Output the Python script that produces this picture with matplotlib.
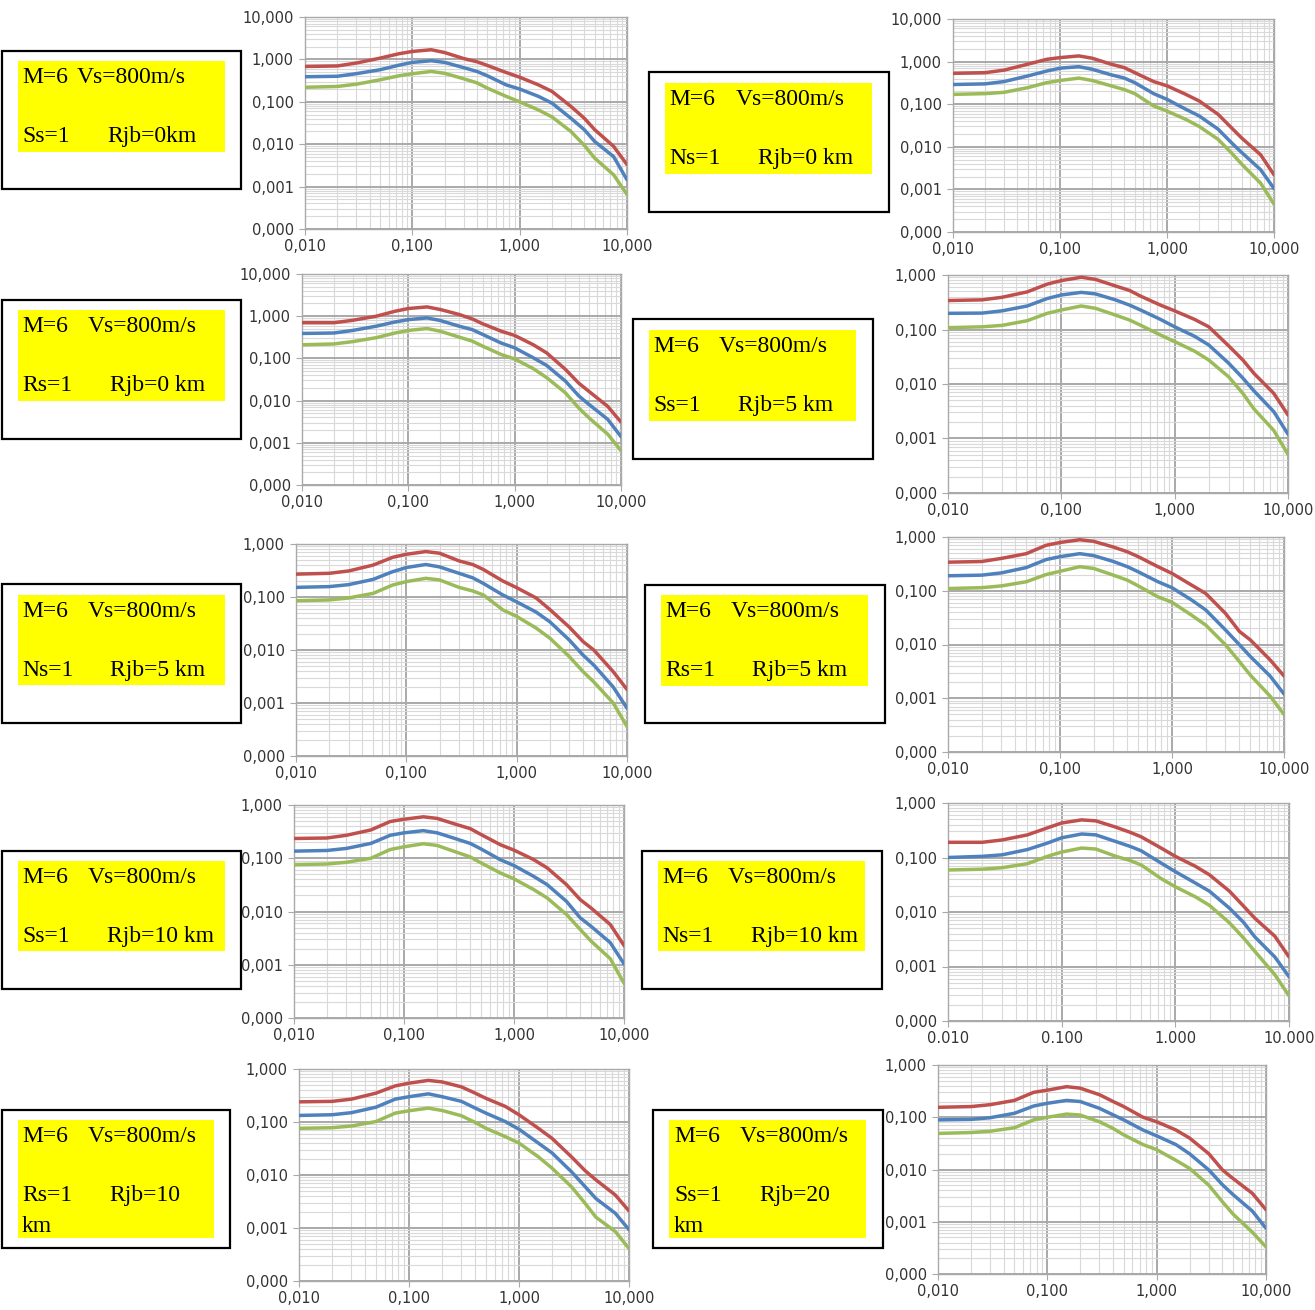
import matplotlib
matplotlib.use("Agg")
import matplotlib.pyplot as plt
from matplotlib.patches import Rectangle
from matplotlib.ticker import FixedLocator, LogLocator, FuncFormatter

# Periodos (s) de los espectros
periods = [0.01, 0.02, 0.03, 0.05, 0.075, 0.1, 0.15, 0.2, 0.3, 0.4,
           0.5, 0.75, 1, 1.5, 2, 3, 4, 5, 7.5, 10]

# Ss=1, Rjb=0 km
ss0_red = [0.68, 0.70, 0.82, 1.07, 1.36, 1.54, 1.69, 1.45, 1.05, 0.88, 0.72, 0.49, 0.38, 0.25, 0.176, 0.078, 0.041, 0.022, 0.0089, 0.0033]
ss0_blue = [0.39, 0.40, 0.46, 0.57, 0.73, 0.85, 0.93, 0.85, 0.64, 0.52, 0.41, 0.25, 0.20, 0.134, 0.093, 0.041, 0.022, 0.0116, 0.0051, 0.00145]
ss0_green = [0.22, 0.23, 0.26, 0.33, 0.41, 0.46, 0.52, 0.47, 0.35, 0.28, 0.21, 0.134, 0.10, 0.064, 0.044, 0.020, 0.0094, 0.0047, 0.0019, 0.00065]

# Ns=1, Rjb=0 km
ns0_red = [0.53, 0.55, 0.63, 0.87, 1.13, 1.24, 1.36, 1.2, 0.87, 0.72, 0.55, 0.34, 0.27, 0.17, 0.119, 0.058, 0.028, 0.016, 0.0065, 0.0022]
ns0_blue = [0.29, 0.30, 0.34, 0.46, 0.60, 0.70, 0.76, 0.66, 0.49, 0.41, 0.32, 0.177, 0.13, 0.076, 0.053, 0.026, 0.0125, 0.0073, 0.0029, 0.00105]
ns0_green = [0.17, 0.177, 0.19, 0.245, 0.32, 0.36, 0.41, 0.36, 0.27, 0.22, 0.177, 0.091, 0.069, 0.044, 0.030, 0.015, 0.0072, 0.0039, 0.0014, 0.00045]

# Rs=1, Rjb=0 km
rs0_red = [0.70, 0.70, 0.80, 1.0, 1.31, 1.52, 1.66, 1.44, 1.1, 0.86, 0.66, 0.44, 0.35, 0.21, 0.135, 0.055, 0.026, 0.0165, 0.0073, 0.0031]
rs0_blue = [0.39, 0.40, 0.46, 0.58, 0.73, 0.83, 0.91, 0.79, 0.58, 0.48, 0.37, 0.23, 0.178, 0.103, 0.068, 0.029, 0.013, 0.0081, 0.0036, 0.0014]
rs0_green = [0.21, 0.22, 0.25, 0.31, 0.40, 0.46, 0.51, 0.44, 0.32, 0.256, 0.195, 0.123, 0.097, 0.057, 0.035, 0.0153, 0.0067, 0.0039, 0.0016, 0.00065]

# Ss=1, Rjb=5 km
ss5_red = [0.34, 0.35, 0.39, 0.49, 0.68, 0.79, 0.91, 0.83, 0.63, 0.52, 0.41, 0.28, 0.22, 0.153, 0.112, 0.050, 0.0275, 0.0157, 0.0067, 0.0027]
ss5_blue = [0.198, 0.20, 0.22, 0.27, 0.37, 0.43, 0.48, 0.45, 0.35, 0.28, 0.228, 0.153, 0.112, 0.075, 0.052, 0.024, 0.0128, 0.0075, 0.0031, 0.0012]
ss5_green = [0.108, 0.112, 0.119, 0.145, 0.198, 0.228, 0.27, 0.245, 0.184, 0.149, 0.12, 0.079, 0.060, 0.040, 0.0275, 0.0135, 0.0067, 0.0035, 0.0014, 0.00051]

# Ns=1, Rjb=5 km
ns5_red = [0.27, 0.28, 0.31, 0.40, 0.56, 0.64, 0.72, 0.67, 0.48, 0.41, 0.33, 0.20, 0.15, 0.096, 0.058, 0.027, 0.0144, 0.010, 0.0039, 0.0018]
ns5_blue = [0.152, 0.157, 0.171, 0.215, 0.30, 0.36, 0.41, 0.37, 0.28, 0.23, 0.18, 0.109, 0.081, 0.052, 0.034, 0.0154, 0.008, 0.0052, 0.002, 0.0008]
ns5_green = [0.085, 0.088, 0.096, 0.117, 0.168, 0.195, 0.225, 0.21, 0.152, 0.13, 0.109, 0.057, 0.043, 0.026, 0.0167, 0.0075, 0.0039, 0.0025, 0.001, 0.00036]

# Rs=1, Rjb=5 km
rs5_red = [0.34, 0.35, 0.40, 0.49, 0.70, 0.79, 0.89, 0.83, 0.65, 0.53, 0.43, 0.28, 0.21, 0.127, 0.089, 0.038, 0.0175, 0.0122, 0.0052, 0.0026]
rs5_blue = [0.19, 0.195, 0.215, 0.27, 0.38, 0.43, 0.49, 0.45, 0.35, 0.28, 0.225, 0.147, 0.114, 0.067, 0.044, 0.0187, 0.0099, 0.006, 0.0026, 0.0012]
rs5_green = [0.11, 0.114, 0.123, 0.147, 0.20, 0.23, 0.28, 0.26, 0.195, 0.157, 0.123, 0.077, 0.061, 0.035, 0.023, 0.0099, 0.0048, 0.0027, 0.0011, 0.0005]

# Ss=1, Rjb=10 km
ss10_red = [0.235, 0.24, 0.27, 0.34, 0.49, 0.54, 0.60, 0.56, 0.43, 0.36, 0.28, 0.18, 0.142, 0.095, 0.066, 0.032, 0.0167, 0.0117, 0.0057, 0.0023]
ss10_blue = [0.136, 0.14, 0.153, 0.19, 0.27, 0.30, 0.33, 0.30, 0.23, 0.19, 0.15, 0.094, 0.073, 0.046, 0.032, 0.0155, 0.0076, 0.0053, 0.0026, 0.00104]
ss10_green = [0.076, 0.078, 0.084, 0.10, 0.146, 0.164, 0.187, 0.174, 0.13, 0.106, 0.082, 0.053, 0.041, 0.026, 0.018, 0.0088, 0.0046, 0.0028, 0.0013, 0.00045]

# Ns=1, Rjb=10 km
ns10_red = [0.19, 0.19, 0.21, 0.26, 0.35, 0.43, 0.49, 0.47, 0.36, 0.29, 0.24, 0.149, 0.105, 0.069, 0.048, 0.024, 0.0127, 0.0077, 0.0036, 0.0015]
ns10_blue = [0.10, 0.105, 0.112, 0.14, 0.184, 0.23, 0.27, 0.26, 0.196, 0.16, 0.133, 0.079, 0.055, 0.034, 0.024, 0.0117, 0.0064, 0.0035, 0.0015, 0.00065]
ns10_green = [0.059, 0.061, 0.065, 0.077, 0.105, 0.126, 0.149, 0.143, 0.105, 0.088, 0.073, 0.041, 0.029, 0.019, 0.0132, 0.0063, 0.0033, 0.0019, 0.00071, 0.00029]

# Rs=1, Rjb=10 km
rs10_red = [0.24, 0.245, 0.27, 0.35, 0.48, 0.54, 0.61, 0.57, 0.46, 0.35, 0.28, 0.197, 0.137, 0.076, 0.049, 0.022, 0.012, 0.0081, 0.0042, 0.0021]
rs10_blue = [0.133, 0.137, 0.15, 0.19, 0.27, 0.30, 0.34, 0.30, 0.245, 0.183, 0.147, 0.102, 0.073, 0.040, 0.026, 0.0115, 0.006, 0.0036, 0.0019, 0.00093]
rs10_green = [0.076, 0.078, 0.084, 0.102, 0.147, 0.163, 0.183, 0.165, 0.131, 0.098, 0.076, 0.053, 0.040, 0.022, 0.0134, 0.006, 0.0029, 0.0016, 0.00086, 0.00041]

# Ss=1, Rjb=20 km
ss20_red = [0.155, 0.16, 0.174, 0.21, 0.30, 0.33, 0.385, 0.36, 0.27, 0.20, 0.16, 0.10, 0.082, 0.057, 0.04, 0.02, 0.0098, 0.0067, 0.0035, 0.0017]
ss20_blue = [0.089, 0.091, 0.098, 0.119, 0.164, 0.185, 0.21, 0.20, 0.148, 0.111, 0.089, 0.057, 0.044, 0.03, 0.02, 0.0098, 0.0051, 0.0033, 0.0016, 0.00075]
ss20_green = [0.049, 0.051, 0.054, 0.063, 0.089, 0.10, 0.115, 0.11, 0.082, 0.061, 0.046, 0.03, 0.024, 0.015, 0.0105, 0.005, 0.0024, 0.0014, 0.00063, 0.00033]

# Textos de los recuadros
head = ("M=6", "Vs=800m/s")
mech = ["Ss=1", "Ns=1", "Rs=1", "Ss=1", "Ns=1", "Rs=1", "Ss=1", "Ns=1", "Rs=1", "Ss=1"]
dist = ["Rjb=0km", "Rjb=0 km", "Rjb=0 km", "Rjb=5 km", "Rjb=5 km", "Rjb=5 km",
        "Rjb=10 km", "Rjb=10 km", "Rjb=10", "Rjb=20"]
tail = ["", "", "", "", "", "", "", "", "km", "km"]

series = [
    (ss0_red, ss0_blue, ss0_green), (ns0_red, ns0_blue, ns0_green),
    (rs0_red, rs0_blue, rs0_green), (ss5_red, ss5_blue, ss5_green),
    (ns5_red, ns5_blue, ns5_green), (rs5_red, rs5_blue, rs5_green),
    (ss10_red, ss10_blue, ss10_green), (ns10_red, ns10_blue, ns10_green),
    (rs10_red, rs10_blue, rs10_green), (ss20_red, ss20_blue, ss20_green),
]

# Posiciones en pixeles: marco, fondo amarillo, x de textos, area del grafico, techo eje y
layout = [
    dict(frame=(2, 51, 241, 189), yel=(18, 61, 225, 152), tx=(22, 77, 107), plot=(305, 17, 627, 229), ytop=10),
    dict(frame=(649, 72, 889, 212), yel=(665, 83, 872, 174), tx=(669, 736, 758), plot=(953, 19, 1274, 232), ytop=10),
    dict(frame=(2, 300, 241, 439), yel=(18, 310, 225, 401), tx=(22, 88, 110), plot=(302, 274, 621, 485), ytop=10),
    dict(frame=(633, 319, 873, 459), yel=(649, 330, 856, 421), tx=(653, 719, 738), plot=(948, 275, 1288, 493), ytop=1),
    dict(frame=(2, 584, 241, 723), yel=(18, 595, 225, 685), tx=(22, 88, 110), plot=(296, 544, 627, 756), ytop=1),
    dict(frame=(645, 585, 885, 723), yel=(661, 595, 868, 686), tx=(665, 731, 752), plot=(948, 537, 1284, 752), ytop=1),
    dict(frame=(2, 851, 241, 989), yel=(18, 861, 225, 951), tx=(22, 88, 107), plot=(294, 805, 624, 1018), ytop=1),
    dict(frame=(642, 851, 882, 989), yel=(658, 861, 865, 951), tx=(662, 728, 751), plot=(948, 803, 1289, 1021), ytop=1, xsep="."),
    dict(frame=(2, 1110, 230, 1248), yel=(18, 1120, 214, 1238), tx=(22, 88, 109), plot=(299, 1069, 629, 1281), ytop=1),
    dict(frame=(653, 1110, 883, 1248), yel=(669, 1120, 866, 1238), tx=(674, 740, 759), plot=(938, 1065, 1266, 1274), ytop=1),
]

colors = ["#C0504D", "#4F81BD", "#9BBB59"]
W, H = 1315, 1310

fig = plt.figure(figsize=(W / 100, H / 100), dpi=100)
fig.patch.set_facecolor("white")

# Capa de fondo para los recuadros con el texto
bg = fig.add_axes([0, 0, 1, 1], zorder=0)
bg.set_xlim(0, W)
bg.set_ylim(H, 0)
bg.axis("off")

serif = "Liberation Serif"
for i, lay in enumerate(layout):
    x0, y0, x1, y1 = lay["frame"]
    bg.add_patch(Rectangle((x0, y0), x1 - x0, y1 - y0, fill=False,
                           edgecolor="black", lw=1.6))
    x0, y0, x1, y1 = lay["yel"]
    bg.add_patch(Rectangle((x0, y0), x1 - x0, y1 - y0, facecolor="#FFFF00",
                           edgecolor="none"))
    xa, xb, xc = lay["tx"]
    kw = dict(fontsize=17, family=serif, ha="left", va="baseline", color="black")
    bg.text(xa, y0 + 22, head[0], **kw)
    bg.text(xb, y0 + 22, head[1], **kw)
    bg.text(xa, y0 + 81, mech[i], **kw)
    bg.text(xc, y0 + 81, dist[i], **kw)
    if tail[i]:
        bg.text(xa, y0 + 112, tail[i], **kw)


def fmt(sep):
    return FuncFormatter(lambda v, p: f"{v:.3f}".replace(".", sep))


for i, lay in enumerate(layout):
    l, t, r, b = lay["plot"]
    ax = fig.add_axes([l / W, 1 - b / H, (r - l) / W, (b - t) / H], zorder=1)
    ax.set_xscale("log")
    ax.set_yscale("log")
    for vals, c in zip(series[i], colors):
        ax.plot(periods, vals, color=c, lw=2.5, solid_joinstyle="round",
                solid_capstyle="round", zorder=3)
    ax.set_xlim(0.01, 10)
    ax.set_ylim(1e-4, lay["ytop"])

    ax.xaxis.set_major_locator(FixedLocator([0.01, 0.1, 1, 10]))
    ydec = [1e-4, 1e-3, 1e-2, 1e-1, 1] + ([10] if lay["ytop"] == 10 else [])
    ax.yaxis.set_major_locator(FixedLocator(ydec))
    ax.xaxis.set_minor_locator(LogLocator(base=10, subs=range(2, 10), numticks=50))
    ax.yaxis.set_minor_locator(LogLocator(base=10, subs=range(2, 10), numticks=50))
    ax.xaxis.set_major_formatter(fmt(lay.get("xsep", ",")))
    ax.yaxis.set_major_formatter(fmt(","))

    ax.grid(which="major", color="#a9a9a9", lw=1.4)
    ax.grid(which="minor", color="#d9d9d9", lw=0.8)
    ax.set_axisbelow(True)
    for s in ax.spines.values():
        s.set_color("#a9a9a9")
        s.set_linewidth(1.0)
    ax.tick_params(which="minor", length=0)
    ax.tick_params(which="major", length=4, width=0.8, color="#a9a9a9",
                   labelsize=10.5, labelcolor="#333333")
    ax.tick_params(axis="x", pad=3.5)
    ax.tick_params(axis="y", pad=4)

fig.savefig("out.png", dpi=100)
